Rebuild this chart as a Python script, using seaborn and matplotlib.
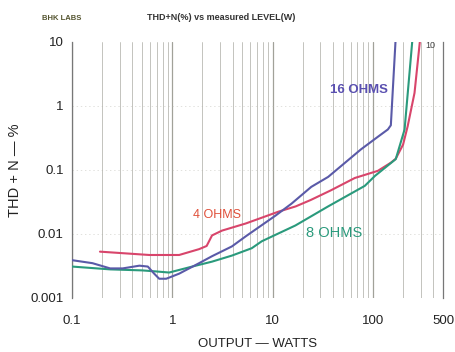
import numpy as np
import pandas as pd
import matplotlib
matplotlib.use("Agg")
import matplotlib.pyplot as plt
import seaborn as sns

# ---- data ----
w_4 = [0.19, 0.59, 1.17, 1.85, 2.2, 2.49, 3.13, 5.4, 11.5, 17, 24, 38, 66, 112, 151, 169, 200, 222, 260, 295, 320]
thd_4 = [0.0053, 0.0047, 0.0047, 0.0058, 0.0065, 0.0095, 0.0113, 0.0146, 0.0224, 0.027, 0.034, 0.048, 0.075, 0.097, 0.13, 0.15, 0.25, 0.48, 1.6, 10.7, 14]

w_8 = [0.1, 0.24, 0.5, 0.69, 0.93, 1.58, 2.49, 3.93, 6.2, 7.8, 16.9, 35.8, 83, 105, 169, 207, 249, 260]
thd_8 = [0.0031, 0.0028, 0.0027, 0.0026, 0.0025, 0.0031, 0.0037, 0.0046, 0.0060, 0.0077, 0.0136, 0.027, 0.0565, 0.081, 0.148, 0.43, 12, 14]

w_16 = [0.1, 0.16, 0.24, 0.32, 0.47, 0.57, 0.66, 0.74, 0.87, 1.17, 1.85, 2.49, 3.93, 5.4, 10.7, 15.4, 24.3, 35.8, 76, 112, 141, 151, 169, 172]
thd_16 = [0.0039, 0.0035, 0.0029, 0.0029, 0.0032, 0.0031, 0.0024, 0.0020, 0.0020, 0.0024, 0.0035, 0.0045, 0.0064, 0.0092, 0.0194, 0.0297, 0.0545, 0.078, 0.21, 0.33, 0.43, 0.5, 12, 14]

loads = ["4 OHMS", "8 OHMS", "16 OHMS"]
x_ticks = [0.1, 1, 10, 100, 500]
x_tick_labels = ["0.1", "1", "10", "100", "500"]
y_ticks = [0.001, 0.01, 0.1, 1, 10]
y_tick_labels = ["0.001", "0.01", "0.1", "1", "10"]

df = pd.concat([
    pd.DataFrame({"W": w_4, "THD": thd_4, "load": loads[0]}),
    pd.DataFrame({"W": w_8, "THD": thd_8, "load": loads[1]}),
    pd.DataFrame({"W": w_16, "THD": thd_16, "load": loads[2]}),
], ignore_index=True)

palette = {"4 OHMS": "#d8456b", "8 OHMS": "#2a9a7c", "16 OHMS": "#5a5aa8"}

sns.set_style("white")
plt.rcParams["font.family"] = ["Liberation Sans", "DejaVu Sans"]

fig = plt.figure(figsize=(4.55, 3.52), dpi=100)
ax = fig.add_axes([72 / 455, 1 - 298 / 352, (443 - 72) / 455, (298 - 42) / 352])

ax.set_xscale("log")
ax.set_yscale("log")
ax.set_xlim(0.1, 500)
ax.set_ylim(0.001, 10)

# vertical grid lines (scanned look)
grid_x = [m * 10.0 ** e for e in range(-1, 3) for m in range(1, 10) if m * 10.0 ** e <= 500]
for gx in grid_x:
    major = abs(np.log10(gx) - round(np.log10(gx))) < 1e-6
    ax.axvline(gx, color="#8a8a80" if major else "#a8a8a0", lw=0.9 if major else 0.6,
               alpha=0.8, zorder=0)
for gy in y_ticks[1:-1]:
    ax.axhline(gy, color="#b8b8b0", lw=0.5, ls=(0, (2, 4)), alpha=0.6, zorder=0)

sns.lineplot(data=df, x="W", y="THD", hue="load", palette=palette, sort=False,
             estimator=None, legend=False, lw=1.5, ax=ax, zorder=3)

ax.set_xticks(x_ticks)
ax.set_xticklabels(x_tick_labels)
ax.set_yticks(y_ticks)
ax.set_yticklabels(y_tick_labels)
ax.minorticks_off()
ax.tick_params(length=0, labelsize=9.5, colors="#222222", pad=6)
ax.tick_params(axis="x", pad=12)

for s in ["top", "bottom"]:
    ax.spines[s].set_visible(False)
for s in ["left", "right"]:
    ax.spines[s].set_color("#777777")
    ax.spines[s].set_linewidth(0.9)

ax.set_xlabel("OUTPUT — WATTS", fontsize=9.5, color="#222222", labelpad=8)
ax.set_ylabel("THD + N — %", fontsize=10.5, color="#222222", labelpad=6)

ax.text(37, 1.6, "16 OHMS", fontsize=9.5, fontweight="bold", color="#5a50b0", zorder=5)
ax.text(1.6, 0.0175, "4 OHMS", fontsize=9, color="#e0503a", zorder=5)
ax.text(21.5, 0.0091, "8 OHMS", fontsize=10.5, color="#2a9a7c", zorder=5)
ax.text(335, 8.2, "10", fontsize=6.5, color="#444444", zorder=5)

fig.text(42 / 455, 1 - 18 / 352, "BHK LABS", fontsize=5.5, fontweight="bold",
         color="#555530", va="center")
fig.text(147 / 455, 1 - 17 / 352, "THD+N(%) vs measured LEVEL(W)", fontsize=6.5,
         fontweight="bold", color="#333333", va="center")

fig.savefig("out.png", dpi=100, facecolor="white")
